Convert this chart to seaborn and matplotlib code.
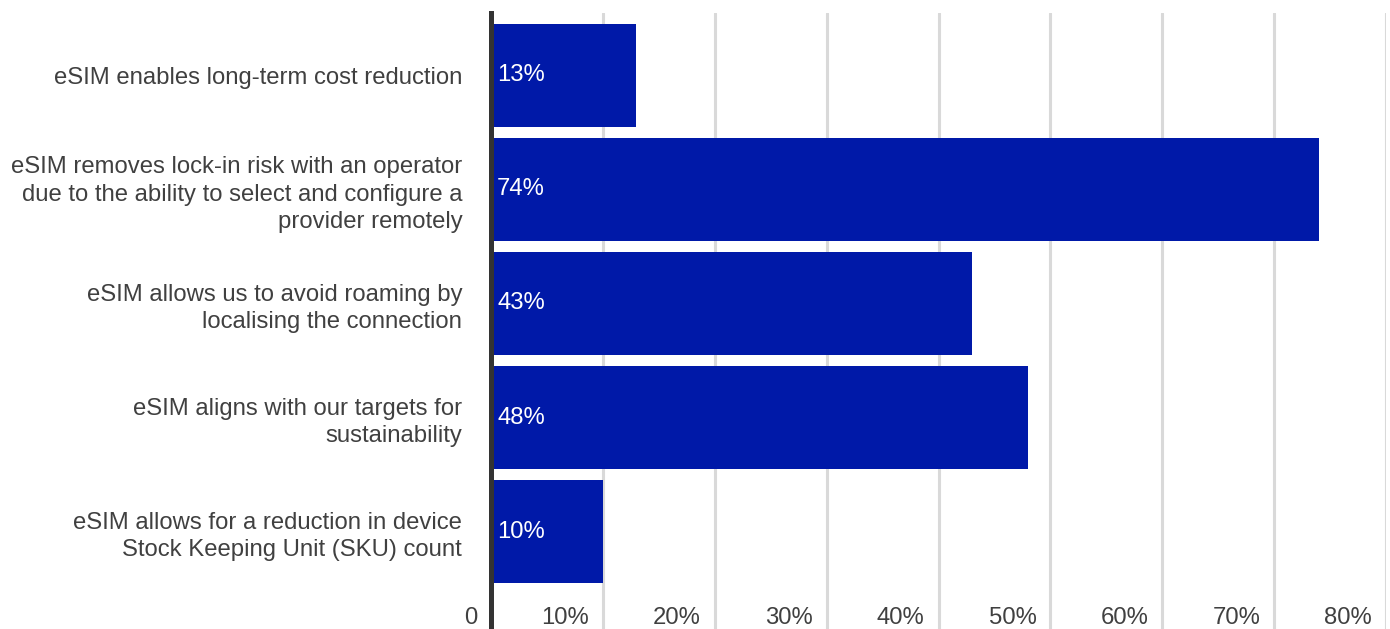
import matplotlib
matplotlib.use("Agg")
import matplotlib.pyplot as plt
from matplotlib.transforms import ScaledTranslation
import seaborn as sns
import pandas as pd

categories = [
    "eSIM enables long-term cost reduction",
    "eSIM removes lock-in risk with an operator\ndue to the ability to select and configure a\nprovider remotely",
    "eSIM allows us to avoid roaming by\nlocalising the connection",
    "eSIM aligns with our targets for\nsustainability",
    "eSIM allows for a reduction in device\nStock Keeping Unit (SKU) count",
]
values = [13, 74, 43, 48, 10]
x_ticks = [0, 10, 20, 30, 40, 50, 60, 70, 80]
x_tick_labels = ["0", "10%", "20%", "30%", "40%", "50%", "60%", "70%", "80%"]

df = pd.DataFrame({"reason": categories, "share": values})

sns.set_theme(style="white")
plt.rcParams["font.family"] = ["Liberation Sans", "DejaVu Sans"]

text_color = "#404040"
bar_color = "#0019A8"
fs = 17.2

fig = plt.figure(figsize=(13.9, 6.29), dpi=100)
ax = fig.add_axes([491 / 1390, 0.0, (1386 - 491) / 1390, 1 - 13 / 629])

sns.barplot(data=df, y="reason", x="share", orient="h", color=bar_color,
            saturation=1, width=0.9, linewidth=0, ax=ax, zorder=3)

ax.set_xlim(0, 80)
ax.set_ylim(4.855, -0.548)
ax.set_xlabel("")
ax.set_ylabel("")

# vertical gridlines
ax.set_xticks(x_ticks)
ax.set_xticklabels(x_tick_labels)
ax.xaxis.grid(True, color="#d9d9d9", linewidth=2.2, zorder=0)
ax.set_axisbelow(True)

for s in ["top", "right", "bottom"]:
    ax.spines[s].set_visible(False)
ax.spines["left"].set_color("#333333")
ax.spines["left"].set_linewidth(3.6)
ax.spines["left"].set_zorder(5)

ax.tick_params(axis="x", length=0, pad=-3.6, labelsize=fs, labelcolor=text_color)
ax.tick_params(axis="y", length=0, pad=20.7, labelsize=fs, labelcolor=text_color)

# x tick labels sit just left of their gridline, inside the plot area
offset = ScaledTranslation(-0.14, 0, fig.dpi_scale_trans)
for lab in ax.get_xticklabels():
    lab.set_horizontalalignment("right")
    lab.set_verticalalignment("baseline")
    lab.set_transform(lab.get_transform() + offset)

for lab in ax.get_yticklabels():
    lab.set_multialignment("right")
    lab.set_linespacing(1.3)

# value labels at the inner left end of each bar
for i, v in enumerate(values):
    ax.annotate(f"{v}%", xy=(0, i), xytext=(6, 0), textcoords="offset pixels",
                ha="left", va="center", color="white", fontsize=fs, zorder=6)

fig.savefig("out.png", dpi=100)
